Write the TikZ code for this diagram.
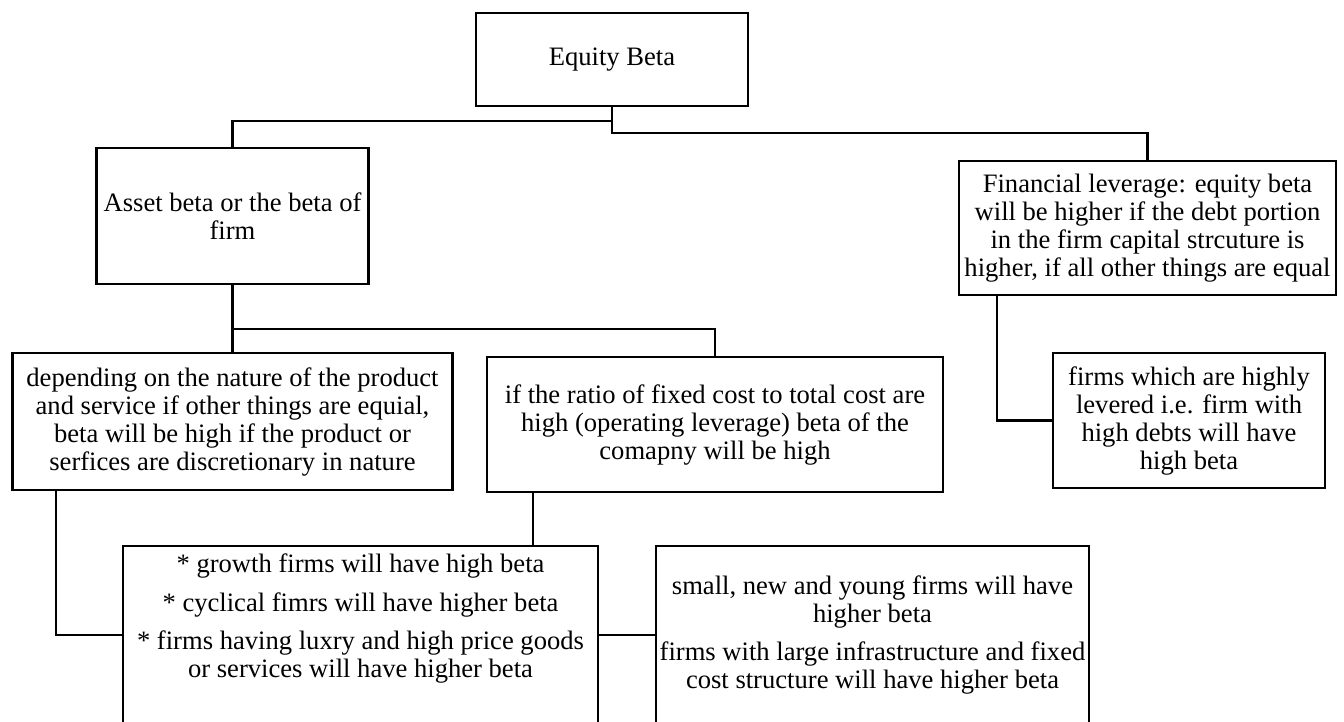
\documentclass[tikz,border=0pt]{standalone}
\usepackage{fontspec}
\setmainfont{Liberation Serif}
\begin{document}
\begin{tikzpicture}[x=1pt,y=-1pt,
  box/.style={draw, line width=2.2pt, inner sep=0pt, align=center,
    font=\fontsize{26.6}{28}\selectfont},
  conn/.style={line width=2.2pt}]
\fill[white] (0,0) rectangle (1344,721);
\useasboundingbox (0,0) rectangle (1344,721);
\clip (0,0) rectangle (1344,721);

\node[box, minimum width=272pt, minimum height=93pt] (eq) at (612,59.5) {Equity Beta};
\node[box, minimum width=272pt, minimum height=136pt] (asset) at (232.5,216) {Asset beta or the beta of\\firm};
\node[box, minimum width=377pt, minimum height=134pt] (fin) at (1147.5,228) {Financial leverage: equity beta\\will be higher if the debt portion\\in the firm capital strcuture is\\higher, if all other things are equal};
\node[box, minimum width=440pt, minimum height=137pt] (dep) at (232.5,421.5) {depending on the nature of the product\\and service if other things are equial,\\beta will be high if the product or\\serfices are discretionary in nature};
\node[box, minimum width=456pt, minimum height=135pt] (ifr) at (715,424.5) {if the ratio of fixed cost to total cost are\\high (operating leverage) beta of the\\comapny will be high};
\node[box, minimum width=272pt, minimum height=135pt] (firms) at (1189,420.5) {firms which are highly\\levered i.e. firm with\\high debts will have\\high beta};
\node[box] (bullet) at (360.5,635) {\parbox[c][178pt][t]{475pt}{\centering\vspace*{8pt}%
* growth firms will have high beta\\[10.5pt]
* cyclical fimrs will have higher beta\\[10.5pt]
* firms having luxry and high price goods\\
or services will have higher beta\par}};
\node[box, minimum width=433pt, minimum height=178pt] (small) at (872.5,635) {small, new and young firms will have\\higher beta\\[10.5pt]firms with large infrastructure and fixed\\cost structure will have higher beta};

\draw[conn] (eq.south) -- ++(0,14) -| (asset.north);
\draw[conn] (eq.south) -- ++(0,26) -| (fin.north);
\draw[conn] (asset.south) -- (dep.north);
\draw[conn] (asset.south) -- ++(0,44) -| (ifr.north);
\draw[conn] ([xshift=-150.5pt]fin.south) |- (firms.west);
\draw[conn] ([xshift=-176.5pt]dep.south) |- (bullet.west);
\draw[conn] ([xshift=-182pt]ifr.south) -- ([xshift=-182pt]ifr.south |- bullet.north);
\draw[conn] (bullet.east) -- (small.west);
\end{tikzpicture}
\end{document}
